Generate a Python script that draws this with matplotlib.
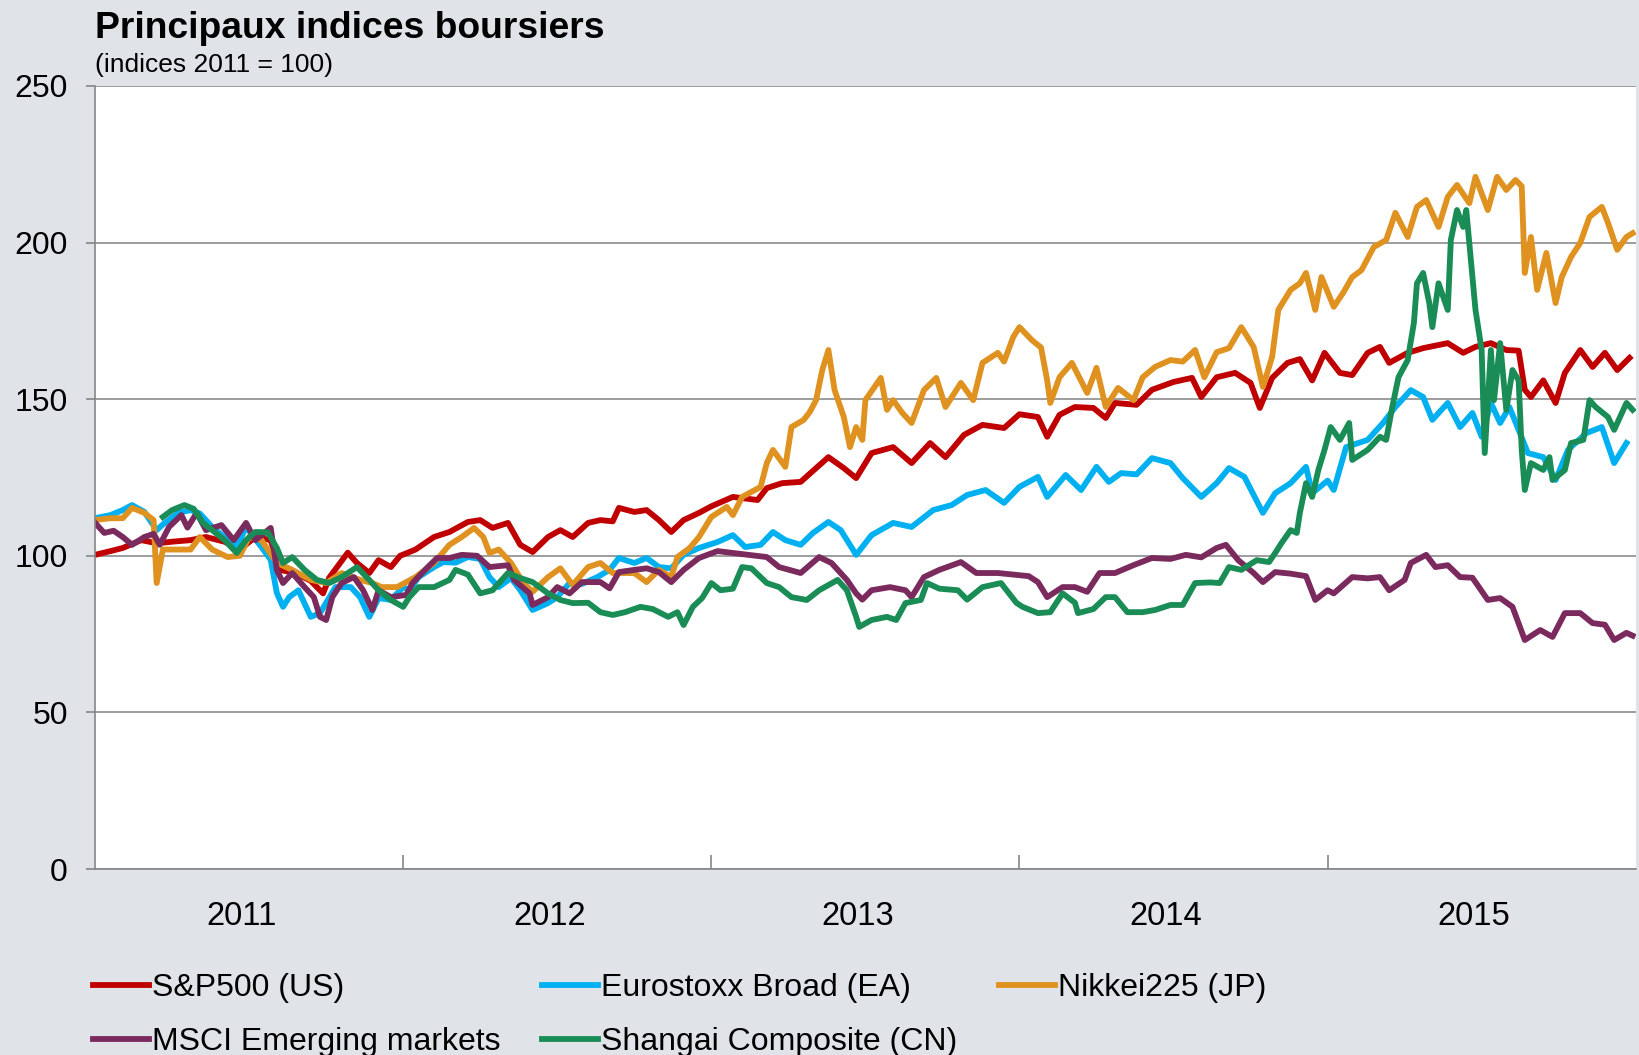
import matplotlib
matplotlib.use("Agg")
import matplotlib.pyplot as plt
from matplotlib.ticker import FixedLocator, NullFormatter, FixedFormatter

plt.rcParams['font.family'] = ['Liberation Sans', 'DejaVu Sans']

# dates as decimal years, values as index (2011 = 100)
sp500_t = [2011.00, 2011.05, 2011.09, 2011.15, 2011.20, 2011.25, 2011.31, 2011.36, 2011.42, 2011.47,
           2011.52, 2011.57, 2011.60, 2011.65, 2011.70, 2011.74, 2011.76, 2011.82, 2011.85, 2011.89,
           2011.92, 2011.96, 2011.99, 2012.04, 2012.10, 2012.15, 2012.21, 2012.25, 2012.29, 2012.34,
           2012.38, 2012.42, 2012.47, 2012.51, 2012.55, 2012.60, 2012.64, 2012.68, 2012.70, 2012.75,
           2012.79, 2012.83, 2012.87, 2012.91, 2012.96, 2013.00, 2013.07, 2013.15, 2013.18, 2013.23,
           2013.29, 2013.34, 2013.38, 2013.43, 2013.47, 2013.52, 2013.59, 2013.65, 2013.71, 2013.76,
           2013.82, 2013.88, 2013.95, 2014.00, 2014.06, 2014.09, 2014.13, 2014.18, 2014.24, 2014.28,
           2014.31, 2014.38, 2014.43, 2014.50, 2014.56, 2014.59, 2014.64, 2014.70, 2014.75, 2014.78,
           2014.82, 2014.87, 2014.91, 2014.95, 2014.99, 2015.04, 2015.08, 2015.13, 2015.17, 2015.20,
           2015.26, 2015.31, 2015.39, 2015.44, 2015.48, 2015.53, 2015.58, 2015.62, 2015.64, 2015.66,
           2015.70, 2015.74, 2015.77, 2015.82, 2015.86, 2015.90, 2015.94, 2015.98]
sp500_v = [100.3, 101.5, 102.5, 105.0, 104.0, 104.5, 105.0, 106.0, 104.5, 102.0,
           106.0, 105.0, 95.5, 94.5, 92.0, 88.0, 93.0, 101.0, 97.7, 94.5,
           98.6, 96.4, 100.0, 102.0, 106.0, 107.6, 110.8, 111.4, 108.9, 110.5,
           103.5, 101.2, 106.0, 108.2, 106.0, 110.5, 111.4, 111.0, 115.3, 114.0,
           114.6, 111.4, 107.6, 111.4, 113.7, 115.8, 118.8, 117.8, 121.6, 123.2,
           123.6, 128.0, 131.5, 128.0, 124.8, 132.8, 134.7, 129.6, 136.0, 131.5,
           138.6, 141.8, 140.8, 145.2, 144.3, 138.0, 145.0, 147.5, 147.2, 144.0,
           148.8, 148.2, 153.0, 155.5, 156.8, 150.7, 157.0, 158.4, 155.2, 147.2,
           156.8, 161.6, 162.8, 156.0, 164.8, 158.4, 157.7, 164.8, 166.7, 161.6,
           164.8, 166.3, 167.9, 164.8, 166.7, 167.9, 165.7, 165.5, 153.0, 150.7,
           156.0, 148.8, 158.4, 165.7, 160.3, 164.8, 159.3, 163.2]

euro_t = [2011.00, 2011.05, 2011.09, 2011.12, 2011.16, 2011.20, 2011.22, 2011.27, 2011.31, 2011.34,
          2011.38, 2011.42, 2011.46, 2011.49, 2011.54, 2011.57, 2011.59, 2011.61, 2011.63, 2011.66,
          2011.70, 2011.73, 2011.75, 2011.78, 2011.83, 2011.86, 2011.89, 2011.92, 2011.96, 2012.00,
          2012.02, 2012.05, 2012.10, 2012.13, 2012.17, 2012.21, 2012.25, 2012.28, 2012.31, 2012.35,
          2012.38, 2012.42, 2012.47, 2012.50, 2012.54, 2012.58, 2012.63, 2012.67, 2012.70, 2012.75,
          2012.79, 2012.83, 2012.87, 2012.91, 2012.96, 2013.02, 2013.07, 2013.11, 2013.16, 2013.20,
          2013.24, 2013.29, 2013.33, 2013.38, 2013.42, 2013.47, 2013.52, 2013.59, 2013.65, 2013.72,
          2013.78, 2013.83, 2013.89, 2013.95, 2014.00, 2014.06, 2014.09, 2014.15, 2014.20, 2014.25,
          2014.29, 2014.33, 2014.38, 2014.43, 2014.49, 2014.53, 2014.59, 2014.64, 2014.68, 2014.73,
          2014.79, 2014.83, 2014.88, 2014.93, 2014.95, 2015.00, 2015.02, 2015.06, 2015.13, 2015.18,
          2015.22, 2015.27, 2015.31, 2015.34, 2015.39, 2015.43, 2015.47, 2015.50, 2015.53, 2015.56,
          2015.59, 2015.62, 2015.65, 2015.70, 2015.74, 2015.78, 2015.84, 2015.89, 2015.93, 2015.97]
euro_v = [112.0, 113.0, 114.6, 116.2, 114.0, 108.2, 110.0, 113.7, 114.6, 113.5,
          109.2, 106.0, 102.8, 109.2, 102.8, 98.7, 88.1, 83.7, 86.8, 89.0,
          80.5, 81.7, 85.0, 90.0, 90.0, 86.8, 80.5, 86.5, 85.9, 90.0,
          89.0, 93.2, 96.4, 98.0, 97.8, 99.6, 99.0, 93.2, 90.0, 92.9,
          89.0, 82.7, 84.9, 86.8, 91.3, 91.0, 93.2, 95.5, 99.3, 97.7,
          99.3, 96.4, 96.0, 100.3, 102.5, 104.4, 106.6, 102.8, 103.5, 107.6,
          105.0, 103.5, 107.3, 110.8, 108.2, 100.3, 106.6, 110.5, 109.2, 114.6,
          116.2, 119.4, 121.0, 116.9, 122.0, 125.2, 118.8, 125.8, 121.0, 128.4,
          123.6, 126.4, 126.0, 131.2, 129.6, 124.8, 118.8, 123.2, 128.0, 125.2,
          113.7, 120.0, 123.2, 128.4, 120.0, 124.0, 121.0, 134.7, 137.0, 142.4,
          147.5, 152.9, 150.7, 143.4, 148.8, 141.1, 145.6, 138.0, 148.8, 142.4,
          147.5, 140.2, 132.8, 131.5, 124.2, 133.8, 139.2, 141.1, 129.6, 136.0]

nikkei_t = [2011.00, 2011.05, 2011.09, 2011.12, 2011.16, 2011.19, 2011.20, 2011.22, 2011.27, 2011.31,
            2011.34, 2011.38, 2011.43, 2011.47, 2011.50, 2011.54, 2011.59, 2011.64, 2011.70, 2011.75,
            2011.80, 2011.86, 2011.90, 2011.93, 2011.98, 2012.01, 2012.04, 2012.10, 2012.15, 2012.19,
            2012.23, 2012.26, 2012.28, 2012.31, 2012.35, 2012.39, 2012.42, 2012.47, 2012.51, 2012.55,
            2012.60, 2012.64, 2012.68, 2012.75, 2012.79, 2012.83, 2012.87, 2012.89, 2012.93, 2012.96,
            2013.00, 2013.05, 2013.07, 2013.10, 2013.16, 2013.18, 2013.20, 2013.24, 2013.26, 2013.30,
            2013.32, 2013.34, 2013.36, 2013.38, 2013.40, 2013.43, 2013.45, 2013.47, 2013.49, 2013.50,
            2013.55, 2013.57, 2013.59, 2013.62, 2013.65, 2013.69, 2013.73, 2013.76, 2013.81, 2013.85,
            2013.88, 2013.93, 2013.95, 2013.98, 2014.00, 2014.04, 2014.07, 2014.09, 2014.10, 2014.13,
            2014.17, 2014.22, 2014.25, 2014.28, 2014.32, 2014.37, 2014.40, 2014.44, 2014.49, 2014.53,
            2014.57, 2014.60, 2014.64, 2014.68, 2014.72, 2014.76, 2014.79, 2014.82, 2014.84, 2014.88,
            2014.91, 2014.93, 2014.96, 2014.98, 2015.02, 2015.05, 2015.08, 2015.11, 2015.15, 2015.19,
            2015.22, 2015.26, 2015.29, 2015.32, 2015.36, 2015.39, 2015.42, 2015.46, 2015.48, 2015.52,
            2015.55, 2015.58, 2015.61, 2015.63, 2015.64, 2015.66, 2015.68, 2015.71, 2015.74, 2015.76,
            2015.79, 2015.82, 2015.85, 2015.89, 2015.91, 2015.94, 2015.97, 2015.99]
nikkei_v = [111.4, 112.0, 112.0, 115.3, 113.7, 111.4, 91.3, 102.0, 102.0, 102.0,
            106.0, 102.0, 99.6, 100.0, 106.0, 105.0, 97.7, 95.5, 92.3, 91.3,
            94.5, 92.3, 91.3, 90.0, 90.0, 91.6, 93.2, 97.7, 103.5, 106.0,
            108.9, 106.0, 100.9, 102.0, 97.7, 91.3, 88.5, 93.2, 96.0, 90.7,
            96.4, 97.7, 94.5, 94.5, 91.6, 95.5, 93.2, 99.6, 102.5, 106.0,
            112.4, 115.6, 113.0, 118.8, 122.0, 129.6, 133.8, 128.4, 141.1, 143.4,
            146.0, 149.7, 159.3, 165.7, 152.9, 144.3, 134.7, 141.1, 137.0, 149.7,
            156.8, 146.6, 149.7, 145.6, 142.4, 152.9, 156.8, 147.5, 155.2, 149.7,
            161.6, 164.8, 162.0, 169.9, 173.0, 168.9, 166.5, 156.0, 148.8, 157.0,
            161.6, 152.0, 160.0, 147.5, 153.6, 149.7, 157.0, 160.3, 162.5, 162.0,
            165.7, 157.0, 165.0, 166.3, 173.0, 166.7, 153.9, 163.5, 178.5, 184.9,
            187.0, 190.3, 178.5, 189.0, 179.5, 183.9, 189.0, 191.2, 198.6, 200.8,
            209.5, 201.8, 211.4, 213.6, 205.0, 214.6, 218.4, 212.6, 221.0, 210.4,
            221.0, 216.8, 220.0, 218.0, 190.3, 201.8, 184.9, 196.7, 180.7, 189.0,
            195.4, 199.9, 208.2, 211.4, 206.3, 197.7, 201.8, 203.0]

msci_t = [2011.00, 2011.03, 2011.06, 2011.09, 2011.12, 2011.16, 2011.19, 2011.21, 2011.24, 2011.28,
          2011.30, 2011.33, 2011.36, 2011.41, 2011.45, 2011.49, 2011.52, 2011.57, 2011.59, 2011.61,
          2011.64, 2011.68, 2011.71, 2011.73, 2011.75, 2011.77, 2011.80, 2011.84, 2011.87, 2011.90,
          2011.92, 2011.96, 2012.01, 2012.03, 2012.08, 2012.11, 2012.15, 2012.19, 2012.24, 2012.28,
          2012.34, 2012.36, 2012.41, 2012.42, 2012.47, 2012.50, 2012.54, 2012.58, 2012.64, 2012.67,
          2012.70, 2012.75, 2012.79, 2012.83, 2012.87, 2012.91, 2012.96, 2013.02, 2013.07, 2013.12,
          2013.18, 2013.22, 2013.29, 2013.35, 2013.39, 2013.44, 2013.47, 2013.49, 2013.52, 2013.58,
          2013.63, 2013.65, 2013.69, 2013.74, 2013.81, 2013.86, 2013.93, 2013.99, 2014.03, 2014.06,
          2014.09, 2014.14, 2014.18, 2014.22, 2014.26, 2014.31, 2014.37, 2014.43, 2014.49, 2014.54,
          2014.59, 2014.64, 2014.67, 2014.71, 2014.76, 2014.79, 2014.83, 2014.88, 2014.93, 2014.96,
          2015.00, 2015.02, 2015.08, 2015.13, 2015.17, 2015.20, 2015.25, 2015.27, 2015.32, 2015.35,
          2015.39, 2015.43, 2015.47, 2015.52, 2015.56, 2015.60, 2015.64, 2015.69, 2015.73, 2015.77,
          2015.82, 2015.86, 2015.90, 2015.93, 2015.97, 2015.99]
msci_v = [110.5, 107.3, 108.0, 106.0, 103.5, 106.0, 107.0, 103.5, 109.2, 113.0,
          109.0, 113.7, 108.2, 109.8, 105.0, 110.5, 105.0, 108.9, 95.5, 91.3,
          94.5, 90.0, 86.8, 80.5, 79.5, 86.8, 91.3, 93.2, 89.0, 82.7,
          89.0, 86.8, 87.5, 91.3, 96.4, 99.3, 99.3, 100.3, 100.0, 96.4,
          97.0, 92.3, 88.0, 84.3, 86.8, 90.0, 88.0, 91.6, 91.6, 89.6,
          94.8, 95.5, 96.0, 94.8, 91.6, 95.5, 99.3, 101.5, 100.9, 100.3,
          99.6, 96.4, 94.5, 99.6, 97.7, 92.3, 88.0, 86.0, 89.0, 90.0,
          89.0, 86.8, 93.2, 95.5, 98.0, 94.5, 94.5, 93.9, 93.5, 91.6,
          86.8, 90.0, 90.0, 88.5, 94.5, 94.5, 97.0, 99.3, 99.0, 100.3,
          99.5, 102.5, 103.5, 98.6, 94.5, 91.6, 94.8, 94.3, 93.5, 85.9,
          89.0, 88.0, 93.2, 92.8, 93.2, 89.0, 92.3, 97.7, 100.3, 96.4,
          97.0, 93.2, 93.0, 85.9, 86.5, 83.7, 73.1, 76.3, 74.1, 81.7,
          81.7, 78.5, 78.0, 73.1, 75.4, 74.5]

shanghai_t = [2011.22, 2011.25, 2011.29, 2011.32, 2011.35, 2011.38, 2011.42, 2011.46, 2011.49, 2011.52,
              2011.56, 2011.59, 2011.61, 2011.64, 2011.68, 2011.72, 2011.76, 2011.80, 2011.85, 2011.89,
              2011.92, 2011.96, 2012.00, 2012.02, 2012.05, 2012.10, 2012.15, 2012.17, 2012.21, 2012.25,
              2012.29, 2012.34, 2012.38, 2012.42, 2012.47, 2012.51, 2012.55, 2012.60, 2012.64, 2012.68,
              2012.72, 2012.77, 2012.81, 2012.86, 2012.89, 2012.91, 2012.94, 2012.97, 2013.00, 2013.03,
              2013.07, 2013.10, 2013.13, 2013.18, 2013.22, 2013.26, 2013.31, 2013.35, 2013.41, 2013.44,
              2013.47, 2013.48, 2013.52, 2013.57, 2013.60, 2013.63, 2013.68, 2013.70, 2013.74, 2013.80,
              2013.83, 2013.88, 2013.94, 2013.99, 2014.01, 2014.06, 2014.10, 2014.14, 2014.18, 2014.19,
              2014.24, 2014.28, 2014.31, 2014.35, 2014.40, 2014.44, 2014.49, 2014.53, 2014.57, 2014.62,
              2014.65, 2014.68, 2014.72, 2014.77, 2014.81, 2014.83, 2014.85, 2014.88, 2014.90, 2014.91,
              2014.93, 2014.95, 2014.97, 2014.99, 2015.01, 2015.04, 2015.07, 2015.08, 2015.13, 2015.17,
              2015.19, 2015.21, 2015.23, 2015.26, 2015.28, 2015.29, 2015.31, 2015.33, 2015.34, 2015.36,
              2015.39, 2015.40, 2015.42, 2015.44, 2015.45, 2015.47, 2015.48, 2015.50, 2015.51, 2015.53,
              2015.54, 2015.56, 2015.58, 2015.60, 2015.62, 2015.63, 2015.64, 2015.66, 2015.70, 2015.72,
              2015.73, 2015.77, 2015.79, 2015.83, 2015.85, 2015.87, 2015.91, 2015.93, 2015.97, 2015.99]
shanghai_v = [112.4, 114.6, 116.2, 115.0, 110.5, 108.2, 105.0, 100.9, 105.0, 107.6,
              107.5, 102.5, 97.7, 99.6, 95.5, 92.3, 91.3, 93.2, 96.4, 92.3,
              89.0, 85.9, 83.7, 86.8, 90.0, 90.0, 92.3, 95.5, 94.0, 88.0,
              89.0, 94.5, 92.9, 91.6, 88.0, 85.9, 84.9, 85.0, 82.0, 81.1,
              82.0, 83.7, 83.0, 80.5, 82.0, 77.9, 83.7, 86.5, 91.3, 89.0,
              89.5, 96.4, 96.0, 91.3, 90.0, 86.8, 85.9, 89.0, 92.3, 89.0,
              80.5, 77.3, 79.5, 80.5, 79.5, 84.9, 85.9, 91.3, 89.5, 89.0,
              86.0, 90.0, 91.3, 85.0, 83.7, 81.7, 82.0, 88.0, 85.0, 81.7,
              83.0, 86.8, 86.8, 82.0, 82.0, 82.7, 84.3, 84.3, 91.3, 91.5,
              91.3, 96.4, 95.5, 98.6, 98.0, 100.9, 104.0, 108.2, 107.3, 113.7,
              123.2, 118.8, 127.4, 133.8, 141.1, 137.0, 142.4, 130.6, 133.8, 138.0,
              137.0, 147.5, 157.0, 162.5, 174.3, 187.0, 190.3, 180.7, 173.0, 187.0,
              178.5, 200.8, 210.4, 205.0, 210.4, 189.0, 178.5, 165.7, 132.8, 165.7,
              149.7, 167.9, 146.6, 159.3, 156.0, 133.8, 121.0, 129.6, 127.4, 131.5,
              124.2, 127.4, 136.0, 137.0, 149.7, 147.5, 144.3, 140.2, 148.8, 146.6]

series = [
    ("S&P500 (US)", sp500_t, sp500_v, "#c00000"),
    ("Eurostoxx Broad (EA)", euro_t, euro_v, "#00b0f0"),
    ("Nikkei225 (JP)", nikkei_t, nikkei_v, "#df9220"),
    ("MSCI Emerging markets", msci_t, msci_v, "#7b2a5e"),
    ("Shangai Composite (CN)", shanghai_t, shanghai_v, "#1a8c56"),
]
years = [2011, 2012, 2013, 2014, 2015]

bg = "#e0e3e8"
grey = "#868686"

fig = plt.figure(figsize=(16.39, 10.55), dpi=100, facecolor=bg)
ax = fig.add_axes([0.058, 0.1763, 0.940, 0.7422])
ax.set_facecolor("white")

lines = {}
for label, t, v, color in series:
    ln, = ax.plot(t, v, color=color, lw=4.2, label=label, solid_joinstyle="round")
    lines[label] = ln

ax.set_xlim(2011, 2016)
ax.set_ylim(0, 250)

# year boundaries as inward ticks, labels in the middle of each year
ax.xaxis.set_major_locator(FixedLocator([y + 1 for y in years[:-1]]))
ax.xaxis.set_major_formatter(NullFormatter())
ax.xaxis.set_minor_locator(FixedLocator([y + 0.475 for y in years]))
ax.xaxis.set_minor_formatter(FixedFormatter([str(y) for y in years]))
ax.tick_params(axis="x", which="major", direction="in", length=10, width=1.2, color=grey)
ax.tick_params(axis="x", which="minor", length=0, pad=23, labelsize=23.5)

ax.set_yticks([0, 50, 100, 150, 200, 250])
ax.tick_params(axis="y", direction="out", length=6.5, width=1.2, color=grey, pad=13, labelsize=23)
ax.grid(axis="y", color="#8c8c8c", lw=1.2)
ax.set_axisbelow(True)

for side in ("top", "right"):
    ax.spines[side].set_visible(False)
for side in ("left", "bottom"):
    ax.spines[side].set_color(grey)
    ax.spines[side].set_linewidth(1.2)

fig.text(0.058, 0.9644, "Principaux indices boursiers", fontsize=26.8, fontweight="bold",
         ha="left", va="baseline")
fig.text(0.058, 0.9317, "(indices 2011 = 100)", fontsize=19, ha="left", va="baseline")

order = ["S&P500 (US)", "MSCI Emerging markets", "Eurostoxx Broad (EA)",
         "Shangai Composite (CN)", "Nikkei225 (JP)"]
fig.legend([lines[k] for k in order], order, ncol=3, loc="upper left",
           bbox_to_anchor=(0.0565, 0.0774), frameon=False, fontsize=23,
           handlelength=1.75, handletextpad=0.1, columnspacing=1.3,
           labelspacing=0.74, borderpad=0, borderaxespad=0)

fig.savefig("out.png", dpi=100, facecolor=bg)
